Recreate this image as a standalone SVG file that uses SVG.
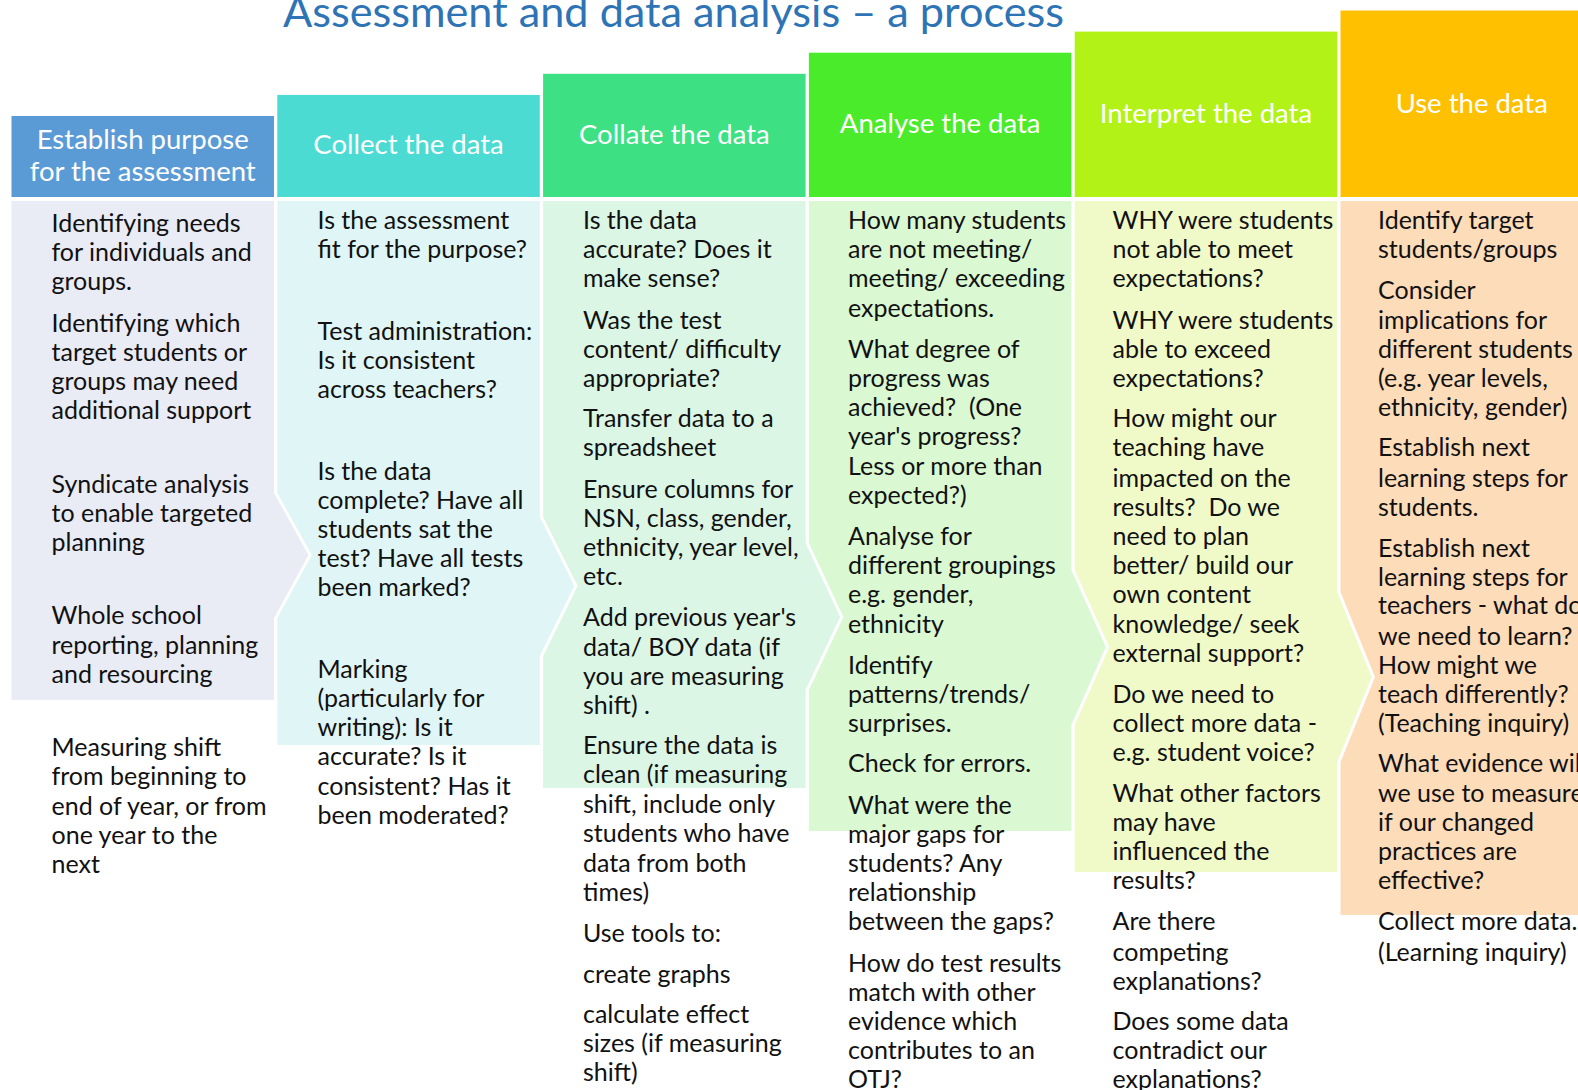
<svg xmlns="http://www.w3.org/2000/svg" width="1578" height="1090" viewBox="0 0 1578 1090">
  <style>
    .title { font-family: Lato, "Liberation Sans", sans-serif; font-size: 43px; fill: #2E74B5; }
    .hd { font-family: Lato, "Liberation Sans", sans-serif; font-size: 27.5px; fill: #FFFFFF; text-anchor: middle; }
    .bd { font-family: Lato, "Liberation Sans", sans-serif; font-size: 25px; fill: #111111; }
  </style>

  <rect width="1578" height="1090" fill="#FFFFFF"/>

  <text class="title" x="283" y="27" textLength="781" lengthAdjust="spacingAndGlyphs">Assessment and data analysis – a process</text>

  <!-- Step 1 -->
  <g id="step-establish-purpose">
    <rect x="11.5" y="116" width="262.5" height="81" fill="#5B9BD5"/>
    <text class="hd" x="142.75"><tspan x="142.75" y="148.5">Establish purpose</tspan><tspan x="142.75" y="180.5">for the assessment</tspan></text>
    <path d="M11.5,201 H274 V493 L308.5,555 L274,618 V700 H11.5 Z" fill="#E9EBF5"/>
    <text class="bd" transform="translate(0,2)">
      <tspan x="51.5" y="229.9">Identifying needs</tspan>
      <tspan x="51.5" y="259.1">for individuals and</tspan>
      <tspan x="51.5" y="288.3">groups.</tspan>
      <tspan x="51.5" y="329.5">Identifying which</tspan>
      <tspan x="51.5" y="358.7">target students or</tspan>
      <tspan x="51.5" y="387.9">groups may need</tspan>
      <tspan x="51.5" y="417.1">additional support</tspan>
      <tspan x="51.5" y="490.6">Syndicate analysis</tspan>
      <tspan x="51.5" y="519.8">to enable targeted</tspan>
      <tspan x="51.5" y="549">planning</tspan>
      <tspan x="51.5" y="622.4">Whole school</tspan>
      <tspan x="51.5" y="651.6">reporting, planning</tspan>
      <tspan x="51.5" y="680.8">and resourcing</tspan>
      <tspan x="51.5" y="754.3">Measuring shift</tspan>
      <tspan x="51.5" y="783.4">from beginning to</tspan>
      <tspan x="51.5" y="812.6">end of year, or from</tspan>
      <tspan x="51.5" y="841.8">one year to the</tspan>
      <tspan x="51.5" y="871">next</tspan>
    </text>
  </g>

  <!-- Step 2 -->
  <g id="step-collect">
    <rect x="277.3" y="94.9" width="262.5" height="102.1" fill="#4CDBD2"/>
    <text class="hd" x="408.55" y="154.3">Collect the data</text>
    <path d="M277.3,201 H539.8 V517 L574.3,586 L539.8,656 V745 H277.3 V618 L311.8,555 L277.3,493 Z" fill="#E0F6F6"/>
    <text class="bd" transform="translate(0,2)">
      <tspan x="317.5" y="226.9">Is the assessment</tspan>
      <tspan x="317.5" y="256.1">fit for the purpose?</tspan>
      <tspan x="317.5" y="337.6">Test administration:</tspan>
      <tspan x="317.5" y="366.8">Is it consistent</tspan>
      <tspan x="317.5" y="396">across teachers?</tspan>
      <tspan x="317.5" y="477.5">Is the data</tspan>
      <tspan x="317.5" y="506.7">complete? Have all</tspan>
      <tspan x="317.5" y="535.9">students sat the</tspan>
      <tspan x="317.5" y="565">test? Have all tests</tspan>
      <tspan x="317.5" y="594.2">been marked?</tspan>
      <tspan x="317.5" y="675.7">Marking</tspan>
      <tspan x="317.5" y="704.9">(particularly for</tspan>
      <tspan x="317.5" y="734.1">writing): Is it</tspan>
      <tspan x="317.5" y="763.3">accurate? Is it</tspan>
      <tspan x="317.5" y="792.5">consistent? Has it</tspan>
      <tspan x="317.5" y="821.7">been moderated?</tspan>
    </text>
  </g>

  <!-- Step 3 -->
  <g id="step-collate">
    <rect x="543.1" y="73.8" width="262.5" height="123.2" fill="#3DE082"/>
    <text class="hd" x="674.35" y="143.7">Collate the data</text>
    <path d="M543.1,201 H805.6 V543 L840.1,617 L805.6,690 V788 H543.1 V656 L577.6,586 L543.1,517 Z" fill="#DCF6E6"/>
    <text class="bd" transform="translate(0,2)">
      <tspan x="583" y="226.9">Is the data</tspan>
      <tspan x="583" y="256.1">accurate? Does it</tspan>
      <tspan x="583" y="285.3">make sense?</tspan>
      <tspan x="583" y="326.5">Was the test</tspan>
      <tspan x="583" y="355.7">content/ difficulty</tspan>
      <tspan x="583" y="384.9">appropriate?</tspan>
      <tspan x="583" y="425.2">Transfer data to a</tspan>
      <tspan x="583" y="454.3">spreadsheet</tspan>
      <tspan x="583" y="495.6">Ensure columns for</tspan>
      <tspan x="583" y="524.8">NSN, class, gender,</tspan>
      <tspan x="583" y="554">ethnicity, year level,</tspan>
      <tspan x="583" y="583.2">etc.</tspan>
      <tspan x="583" y="624.4">Add previous year's</tspan>
      <tspan x="583" y="653.6">data/ BOY data (if</tspan>
      <tspan x="583" y="682.8">you are measuring</tspan>
      <tspan x="583" y="712">shift) .</tspan>
      <tspan x="583" y="752.2">Ensure the data is</tspan>
      <tspan x="583" y="781.4">clean (if measuring</tspan>
      <tspan x="583" y="810.6">shift, include only</tspan>
      <tspan x="583" y="839.8">students who have</tspan>
      <tspan x="583" y="870">data from both</tspan>
      <tspan x="583" y="899.2">times)</tspan>
      <tspan x="583" y="940.4">Use tools to:</tspan>
      <tspan x="583" y="980.7">create graphs</tspan>
      <tspan x="583" y="1020.9">calculate effect</tspan>
      <tspan x="583" y="1050.1">sizes (if measuring</tspan>
      <tspan x="583" y="1079.3">shift)</tspan>
    </text>
  </g>

  <!-- Step 4 -->
  <g id="step-analyse">
    <rect x="808.9" y="52.7" width="262.5" height="144.3" fill="#4AEB2B"/>
    <text class="hd" x="940.15" y="133.1">Analyse the data</text>
    <path d="M808.9,201 H1071.4 V570 L1105.9,647 L1071.4,725 V831 H808.9 V690 L843.4,617 L808.9,543 Z" fill="#DAF8D2"/>
    <text class="bd" transform="translate(0,2)">
      <tspan x="848" y="226.9">How many students</tspan>
      <tspan x="848" y="256.1">are not meeting/</tspan>
      <tspan x="848" y="285.3">meeting/ exceeding</tspan>
      <tspan x="848" y="314.5">expectations.</tspan>
      <tspan x="848" y="355.7">What degree of</tspan>
      <tspan x="848" y="384.9">progress was</tspan>
      <tspan x="848" y="414.1">achieved?&#160; (One</tspan>
      <tspan x="848" y="443.3">year's progress?</tspan>
      <tspan x="848" y="472.5">Less or more than</tspan>
      <tspan x="848" y="501.6">expected?)</tspan>
      <tspan x="848" y="542.9">Analyse for</tspan>
      <tspan x="848" y="572.1">different groupings</tspan>
      <tspan x="848" y="601.3">e.g. gender,</tspan>
      <tspan x="848" y="630.5">ethnicity</tspan>
      <tspan x="848" y="671.7">Identify</tspan>
      <tspan x="848" y="700.9">patterns/trends/</tspan>
      <tspan x="848" y="730.1">surprises.</tspan>
      <tspan x="848" y="770.4">Check for errors.</tspan>
      <tspan x="848" y="811.6">What were the</tspan>
      <tspan x="848" y="840.8">major gaps for</tspan>
      <tspan x="848" y="870">students? Any</tspan>
      <tspan x="848" y="899.2">relationship</tspan>
      <tspan x="848" y="928.4">between the gaps?</tspan>
      <tspan x="848" y="969.6">How do test results</tspan>
      <tspan x="848" y="998.8">match with other</tspan>
      <tspan x="848" y="1028">evidence which</tspan>
      <tspan x="848" y="1057.2">contributes to an</tspan>
      <tspan x="848" y="1086.4">OTJ?</tspan>
    </text>
  </g>

  <!-- Step 5 -->
  <g id="step-interpret">
    <rect x="1074.7" y="31.6" width="262.5" height="165.4" fill="#B3F217"/>
    <text class="hd" x="1205.95" y="122.6">Interpret the data</text>
    <path d="M1074.7,201 H1337.2 V592 L1371.7,677 L1337.2,762 V872 H1074.7 V725 L1109.2,647 L1074.7,570 Z" fill="#F0FAC8"/>
    <text class="bd" transform="translate(0,2)">
      <tspan x="1112.5" y="226.9">WHY were students</tspan>
      <tspan x="1112.5" y="256.1">not able to meet</tspan>
      <tspan x="1112.5" y="285.3">expectations?</tspan>
      <tspan x="1112.5" y="326.5">WHY were students</tspan>
      <tspan x="1112.5" y="355.7">able to exceed</tspan>
      <tspan x="1112.5" y="384.9">expectations?</tspan>
      <tspan x="1112.5" y="425.2">How might our</tspan>
      <tspan x="1112.5" y="454.3">teaching have</tspan>
      <tspan x="1112.5" y="484.5">impacted on the</tspan>
      <tspan x="1112.5" y="513.7">results?&#160; Do we</tspan>
      <tspan x="1112.5" y="542.9">need to plan</tspan>
      <tspan x="1112.5" y="572.1">better/ build our</tspan>
      <tspan x="1112.5" y="601.3">own content</tspan>
      <tspan x="1112.5" y="630.5">knowledge/ seek</tspan>
      <tspan x="1112.5" y="659.6">external support?</tspan>
      <tspan x="1112.5" y="700.9">Do we need to</tspan>
      <tspan x="1112.5" y="730.1">collect more data -</tspan>
      <tspan x="1112.5" y="759.3">e.g. student voice?</tspan>
      <tspan x="1112.5" y="799.5">What other factors</tspan>
      <tspan x="1112.5" y="828.7">may have</tspan>
      <tspan x="1112.5" y="857.9">influenced the</tspan>
      <tspan x="1112.5" y="887.1">results?</tspan>
      <tspan x="1112.5" y="928.4">Are there</tspan>
      <tspan x="1112.5" y="958.5">competing</tspan>
      <tspan x="1112.5" y="987.7">explanations?</tspan>
      <tspan x="1112.5" y="1028">Does some data</tspan>
      <tspan x="1112.5" y="1057.2">contradict our</tspan>
      <tspan x="1112.5" y="1086.4">explanations?</tspan>
    </text>
  </g>

  <!-- Step 6 -->
  <g id="step-use">
    <rect x="1340.5" y="10.5" width="262.5" height="186.5" fill="#FFC000"/>
    <text class="hd" x="1471.75" y="112.5">Use the data</text>
    <path d="M1340.5,201 H1603 V915 H1340.5 V762 L1375,677 L1340.5,592 Z" fill="#FDDCBA"/>
    <text class="bd" transform="translate(0,2)">
      <tspan x="1378" y="226.9">Identify target</tspan>
      <tspan x="1378" y="256.1">students/groups</tspan>
      <tspan x="1378" y="297.3">Consider</tspan>
      <tspan x="1378" y="326.5">implications for</tspan>
      <tspan x="1378" y="355.7">different students</tspan>
      <tspan x="1378" y="384.9">(e.g. year levels,</tspan>
      <tspan x="1378" y="414.1">ethnicity, gender)</tspan>
      <tspan x="1378" y="454.3">Establish next</tspan>
      <tspan x="1378" y="484.5">learning steps for</tspan>
      <tspan x="1378" y="513.7">students.</tspan>
      <tspan x="1378" y="555">Establish next</tspan>
      <tspan x="1378" y="584.2">learning steps for</tspan>
      <tspan x="1378" y="612.4">teachers - what do</tspan>
      <tspan x="1378" y="642.5">we need to learn?</tspan>
      <tspan x="1378" y="671.7">How might we</tspan>
      <tspan x="1378" y="700.9">teach differently?</tspan>
      <tspan x="1378" y="730.1">(Teaching inquiry)</tspan>
      <tspan x="1378" y="770.4">What evidence will</tspan>
      <tspan x="1378" y="799.5">we use to measure</tspan>
      <tspan x="1378" y="828.7">if our changed</tspan>
      <tspan x="1378" y="857.9">practices are</tspan>
      <tspan x="1378" y="887.1">effective?</tspan>
      <tspan x="1378" y="928.4">Collect more data.</tspan>
      <tspan x="1378" y="958.5">(Learning inquiry)</tspan>
    </text>
  </g>
</svg>
